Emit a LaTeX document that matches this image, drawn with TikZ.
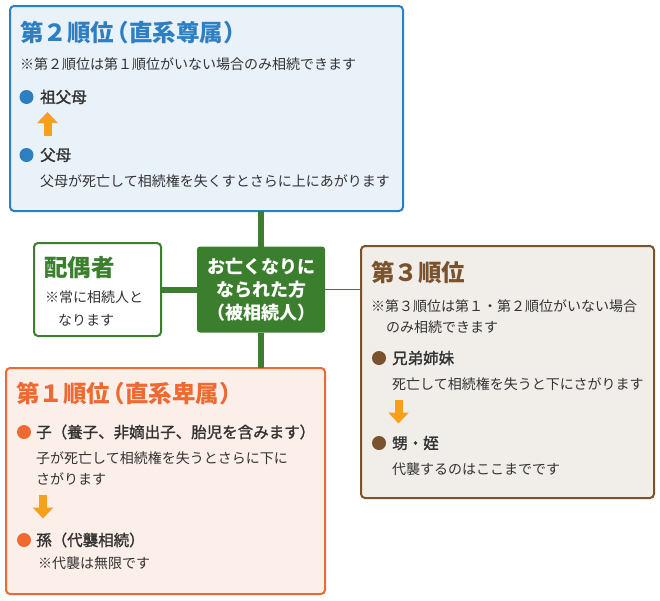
\documentclass[tikz,border=0pt]{standalone}
\usepackage{fontspec}
\setmainfont{Noto Sans CJK JP}
\newfontfamily\medface{Noto Sans CJK JP}[FakeBold=1.6]
\usepackage{tikz}
\usetikzlibrary{arrows.meta}
\definecolor{secC}{HTML}{2E7FC2}
\definecolor{secBg}{HTML}{E9F1F9}
\definecolor{grn}{HTML}{3B7E2E}
\definecolor{fstC}{HTML}{EE6A30}
\definecolor{fstBg}{HTML}{FCEFEA}
\definecolor{thdC}{HTML}{7A522E}
\definecolor{thdBg}{HTML}{F1EEEA}
\definecolor{arrC}{HTML}{F9A01B}
\definecolor{txt}{HTML}{333333}
\newcommand{\ttlfont}{\fontsize{23.5}{27}\bfseries\selectfont}
\newcommand{\itmfont}{\fontsize{15.5}{19}\medface\selectfont}
\newcommand{\smlfont}{\fontsize{14}{17}\selectfont}
\newcommand{\ctrfont}{\fontsize{18}{23}\bfseries\selectfont}
\newcommand{\lkakko}{\kern-.35em（}
\tikzset{
  box/.style    ={rectangle,rounded corners=4pt,line width=2pt,
                  inner sep=0pt,outer sep=0pt},
  ttl/.style    ={anchor=west,inner sep=0pt,font=\ttlfont},
  itm/.style    ={anchor=west,inner sep=0pt,font=\itmfont,text=txt},
  sml/.style    ={anchor=west,inner sep=0pt,font=\smlfont,text=txt},
  dot/.style    ={circle,minimum size=14pt,inner sep=0pt},
  blk/.style    ={draw=arrC,line width=8pt,
                  -{Triangle[width=20pt,length=11pt]}},
}

\begin{document}
\begin{tikzpicture}[
  x=1pt, y=-1pt,
  trunk/.style  ={draw=grn,line width=5.5pt},
  thin/.style   ={draw=grn,line width=1.5pt},
]
\useasboundingbox (0,0) rectangle (660,600);
%% boxes
\node[box,draw=secC,fill=secBg,minimum width=393pt,minimum height=205pt]
      (sec) at (206.5,108.5) {};
\node[box,draw=grn,fill=white,minimum width=127pt,minimum height=93pt]
      (spo) at (97.5,289.5) {};
\node[box,draw=thdC,fill=thdBg,minimum width=293pt,minimum height=252pt]
      (thd) at (507.5,372) {};
\node[box,draw=fstC,fill=fstBg,minimum width=319pt,minimum height=226pt]
      (fst) at (165.5,481) {};
\node[box,draw=none,fill=grn,rounded corners=3pt,minimum width=128pt,
      minimum height=86pt] (ctr) at (261,289.5) {};
%% links to the deceased
\draw[trunk] (ctr.north) -- (ctr.north |- sec.south);
\draw[trunk] (ctr.south) -- (ctr.south |- fst.north);
\draw[draw=grn,line width=6pt] (ctr.west) -- (spo.east);
\draw[thin] (ctr.east) -- (ctr.east -| thd.west);
%% deceased
\node[font=\ctrfont,text=white,align=center,inner sep=0pt] (ctrtxt)
      at (ctr) {お亡くなりに\\なられた方\\（被相続人）};
%% spouse
\node[ttl,text=grn] (spot) at (44,268) {配偶者};
\node[sml] (spon1) at (45,297) {※常に相続人と};
\node[sml] (spon2) at (58,320) {なります};
%% second rank
\node[ttl,text=secC] (sect) at (20,33) {第２順位\lkakko 直系尊属）};
\node[sml] (secn) at (20,64) {※第２順位は第１順位がいない場合のみ相続できます};
\node[dot,fill=secC] (secd1) at (26.5,97) {};
\node[itm] (seci1) at (40,97) {祖父母};
\coordinate (seca0) at (47.5,136);
\coordinate (seca1) at (47.5,112);
\draw[blk] (seca0) -- (seca1);
\node[dot,fill=secC] (secd2) at (26.5,155) {};
\node[itm] (seci2) at (40,155) {父母};
\node[sml] (secx) at (40,181) {父母が死亡して相続権を失くすとさらに上にあがります};
%% third rank
\node[ttl,text=thdC] (thdt) at (371,272) {第３順位};
\node[sml] (thdn1) at (371,306) {※第３順位は第１・第２順位がいない場合};
\node[sml] (thdn2) at (386,327) {のみ相続できます};
\node[dot,fill=thdC] (thdd1) at (379,358) {};
\node[itm] (thdi1) at (392,358) {兄弟姉妹};
\node[sml] (thdx1) at (392,384) {死亡して相続権を失うと下にさがります};
\coordinate (thda0) at (398.5,400);
\coordinate (thda1) at (398.5,423.5);
\draw[blk] (thda0) -- (thda1);
\node[dot,fill=thdC] (thdd2) at (379,443) {};
\node[itm] (thdi2) at (392,443) {甥・姪};
\node[sml] (thdx2) at (392,469) {代襲するのはここまでです};
%% first rank
\node[ttl,text=fstC] (fstt) at (16,394) {第１順位\lkakko 直系卑属）};
\node[dot,fill=fstC] (fstd1) at (24,432) {};
\node[itm] (fsti1) at (36,432) {子（養子、非嫡出子、胎児を含みます）};
\node[sml] (fstx1) at (36,458) {子が死亡して相続権を失うとさらに下に};
\node[sml] (fstx2) at (36,479) {さがります};
\coordinate (fsta0) at (43,495);
\coordinate (fsta1) at (43,518.5);
\draw[blk] (fsta0) -- (fsta1);
\node[dot,fill=fstC] (fstd2) at (24,540) {};
\node[itm] (fsti2) at (36,540) {孫（代襲相続）};
\node[sml] (fstx3) at (38,563) {※代襲は無限です};
\end{tikzpicture}
\end{document}
